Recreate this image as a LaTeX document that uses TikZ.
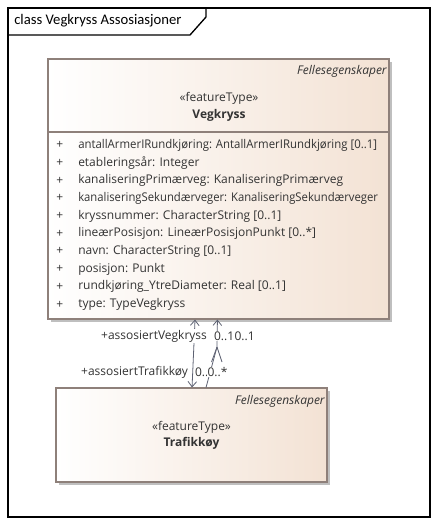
\documentclass[tikz,border=0pt]{standalone}
\usepackage{fontspec}
\setmainfont{Open Sans}
\newfontfamily\titlefont{Carlito}
\usetikzlibrary{arrows.meta,fit,shadows,positioning}
\definecolor{classfill}{HTML}{F3E2D4}
\definecolor{classedge}{HTML}{8E807A}
\definecolor{assoccol}{HTML}{5E6273}
\definecolor{umltext}{HTML}{333333}

\begin{document}
\begin{tikzpicture}[x=0.75pt,y=-0.75pt,
   frame/.style={draw=black,line width=1pt},
   class box/.style={rectangle,draw=classedge,line width=0.8pt,inner sep=0pt,
                     left color=white,right color=classfill,
                     drop shadow={shadow xshift=2.2pt,shadow yshift=-2.2pt,fill=black!25,opacity=1}},
   uml text/.style={text=umltext,inner sep=0pt,font=\fontsize{9}{10}\selectfont},
   attr/.style={uml text,anchor=west},
   role/.style={uml text,fill=white,inner sep=0.6pt},
   assoc line/.style={draw=assoccol,line width=0.6pt,>={Straight Barb[length=4pt,width=6.5pt]}}]

\useasboundingbox (0,0) rectangle (439,525);

%DRAWING diagram frame and tab

 \draw[frame] (8,8) rectangle (430,517);
 \draw[frame] (8,35)--(190,35)--(206,17)--(206,8);
 \node[anchor=west,inner sep=0pt,font=\titlefont\fontsize{11}{13}\selectfont] (Title) at (14,21) {class Vegkryss Assosiasjoner};

%Class boxes

 \node[class box,fit={(48,59) (389,319)}] (Vegkryss) {};
 \draw[classedge,line width=0.8pt] (Vegkryss.west |- 0,132)--(Vegkryss.east |- 0,132);

 \node[uml text,anchor=east,font=\fontsize{9}{10}\selectfont\itshape] (VegkryssPkg) at (387,71) {Fellesegenskaper};
 \node[uml text] (VegkryssStereo) at (219,98) {«featureType»};
 \node[uml text,font=\fontsize{9}{10}\selectfont\bfseries] (VegkryssName) at (219,115) {Vegkryss};

 \foreach \attr [count=\i] in {{\scalebox{0.95}[1]{antallArmerIRundkjøring: AntallArmerIRundkjøring [0..1]}},
   {etableringsår: Integer},{kanaliseringPrimærveg: KanaliseringPrimærveg},
   {\scalebox{0.94}[1]{kanaliseringSekundærveger: KanaliseringSekundærveger}},{kryssnummer: CharacterString [0..1]},
   {lineærPosisjon: LineærPosisjonPunkt [0..*]},{navn: CharacterString [0..1]},
   {posisjon: Punkt},{rundkjøring\_YtreDiameter: Real [0..1]},{type: TypeVegkryss}}
 {\node[attr] (Plus\i) at (56,127.5+17.7*\i) {+};
  \node[attr] (Attr\i) at (78,127.5+17.7*\i) {\attr};}

 \node[class box,fit={(56,388) (327,482)}] (Trafikkoy) {};

 \node[uml text,anchor=east,font=\fontsize{9}{10}\selectfont\itshape] (TrafikkoyPkg) at (325,401) {Fellesegenskaper};
 \node[uml text] (TrafikkoyStereo) at (191.5,427) {«featureType»};
 \node[uml text,font=\fontsize{9}{10}\selectfont\bfseries] (TrafikkoyName) at (191.5,443) {Trafikkøy};

%Associations

 \coordinate (BendB) at (217,347);
 \draw[assoc line,<->] ([xshift=-17.6pt]Vegkryss.south)--([xshift=0.4pt]Trafikkoy.north);
 \draw[assoc line,<-] ([xshift=-0.8pt]Vegkryss.south)--(BendB)--([xshift=10.9pt]Trafikkoy.north);
 \draw[assoc line] (BendB)--++(5,15);
 \draw[assoc line] (BendB)--++(-5.5,15);

 \node[role,anchor=east] (RoleVegkryss) at (208,336) {+assosiertVegkryss};
 \node[role,anchor=west] (MultVegA) at (213,336) {0..1};
 \node[role,anchor=west] (MultVegB) at (233.5,336) {0..1};
 \node[role,anchor=east] (RoleTrafikkoy) at (189,372) {+assosiertTrafikkøy};
 \node[role,anchor=west] (MultTrafA) at (194,372) {0..};
 \node[role,anchor=west] (MultTrafB) at (206.5,372) {0..*};

\end{tikzpicture}
\end{document}
